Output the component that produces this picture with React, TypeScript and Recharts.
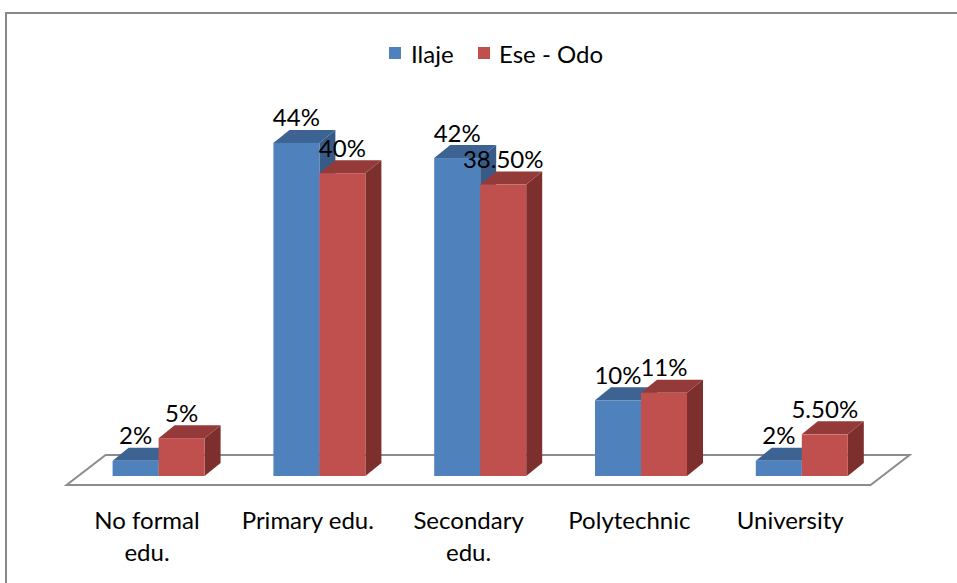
import React from 'react';
import { BarChart, Bar, XAxis, YAxis, LabelList, usePlotArea } from 'recharts';

const categories = ['No formal edu.', 'Primary edu.', 'Secondary edu.', 'Polytechnic', 'University'];
const categoryLines = [['No formal', 'edu.'], ['Primary edu.'], ['Secondary', 'edu.'], ['Polytechnic'], ['University']];
const ilaje = [2, 44, 42, 10, 2];
const eseOdo = [5, 40, 38.5, 11, 5.5];
const ilajeLabels = ['2%', '44%', '42%', '10%', '2%'];
const eseOdoLabels = ['5%', '40%', '38.50%', '11%', '5.50%'];

const data = categories.map((c, i) => ({
  name: c,
  ilaje: ilaje[i],
  eseOdo: eseOdo[i],
  ilajeLabel: ilajeLabels[i],
  eseOdoLabel: eseOdoLabels[i],
}));

const FONT = 'Lato, "Open Sans", sans-serif';
const FS = 24;
const DX = 16;
const DY = 13;

const makeBar3D = (front: string, top: string, side: string) => (props: any) => {
  const { x, y, width, height } = props;
  if (width == null || height == null) return null;
  return (
    <g>
      <polygon
        points={`${x + width},${y} ${x + width + DX},${y - DY} ${x + width + DX},${y + height - DY} ${x + width},${y + height}`}
        fill={side}
      />
      <polygon
        points={`${x},${y} ${x + DX},${y - DY} ${x + width + DX},${y - DY} ${x + width},${y}`}
        fill={top}
      />
      <rect x={x} y={y} width={width} height={height} fill={front} />
    </g>
  );
};

const Floor = () => {
  const area: any = usePlotArea ? usePlotArea() : null;
  if (!area) return null;
  const left = area.x;
  const right = area.x + area.width;
  const base = area.y + area.height;
  const backY = base - 21;
  const frontY = base + 9;
  const pts = `${left + 27},${backY} ${right + 27},${backY} ${right - 12},${frontY} ${left - 12},${frontY}`;
  return <polygon points={pts} fill="#ffffff" stroke="#8c8c8c" strokeWidth={2} />;
};

const Tick = (props: any) => {
  const { x, y, index } = props;
  const lines = categoryLines[index] || [];
  return (
    <g>
      {lines.map((l: string, i: number) => (
        <text
          key={i}
          x={x - 12}
          y={y + 43 + i * 32}
          textAnchor="middle"
          dominantBaseline="central"
          fontFamily={FONT}
          fontSize={FS}
          fill="#000"
        >
          {l}
        </text>
      ))}
    </g>
  );
};

const makeLabel = (labels: string[]) => (props: any) => {
  const { x, y, width, index } = props;
  return (
    <text
      x={x + width / 2}
      y={y - 26}
      textAnchor="middle"
      dominantBaseline="central"
      fontFamily={FONT}
      fontSize={FS}
      fill="#000"
    >
      {labels[index]}
    </text>
  );
};

const LegendContent = () => (
  <svg width={957} height={80} style={{ overflow: 'visible' }}>
    <rect x={389} y={47} width={12} height={12} fill="#4F81BD" />
    <text x={411} y={53} dominantBaseline="central" fontFamily={FONT} fontSize={FS} fill="#000">Ilaje</text>
    <rect x={478} y={47} width={12} height={12} fill="#C0504D" />
    <text x={499} y={53} dominantBaseline="central" fontFamily={FONT} fontSize={FS} fill="#000">Ese - Odo</text>
  </svg>
);

export default function App() {
  return (
    <div style={{ position: 'absolute', left: 0, top: 0, width: 957, height: 583, overflow: 'hidden', background: '#fff' }}>
      <div
        style={{
          position: 'absolute',
          left: 5,
          top: 12,
          width: 1200,
          height: 1200,
          border: '2px solid #888888',
          boxSizing: 'border-box',
        }}
      />
      <div style={{ position: 'absolute', left: 0, top: 0 }}>
        <BarChart
          width={957}
          height={583}
          data={data}
          margin={{ top: 97.5, right: 74.4, bottom: 47, left: 78.6 }}
          barGap={0}
          barSize={46}
        >
          <Floor />
          <XAxis
            dataKey="name"
            axisLine={false}
            tickLine={false}
            tickSize={0}
            tickMargin={0}
            height={60}
            interval={0}
            tick={<Tick />}
          />
          <YAxis hide width={0} domain={[0, 50]} />
          <Bar dataKey="ilaje" name="Ilaje" fill="#4F81BD" isAnimationActive={false} shape={makeBar3D('#4F81BD', '#3D6393', '#375A86')}>
            <LabelList dataKey="ilajeLabel" content={makeLabel(ilajeLabels)} />
          </Bar>
          <Bar dataKey="eseOdo" name="Ese - Odo" fill="#C0504D" isAnimationActive={false} shape={makeBar3D('#C0504D', '#943B39', '#7C2F2D')}>
            <LabelList dataKey="eseOdoLabel" content={makeLabel(eseOdoLabels)} />
          </Bar>
        </BarChart>
      </div>
      <div style={{ position: 'absolute', left: 0, top: 0, width: 957, height: 80, pointerEvents: 'none' }}>
        <LegendContent />
      </div>
    </div>
  );
}
